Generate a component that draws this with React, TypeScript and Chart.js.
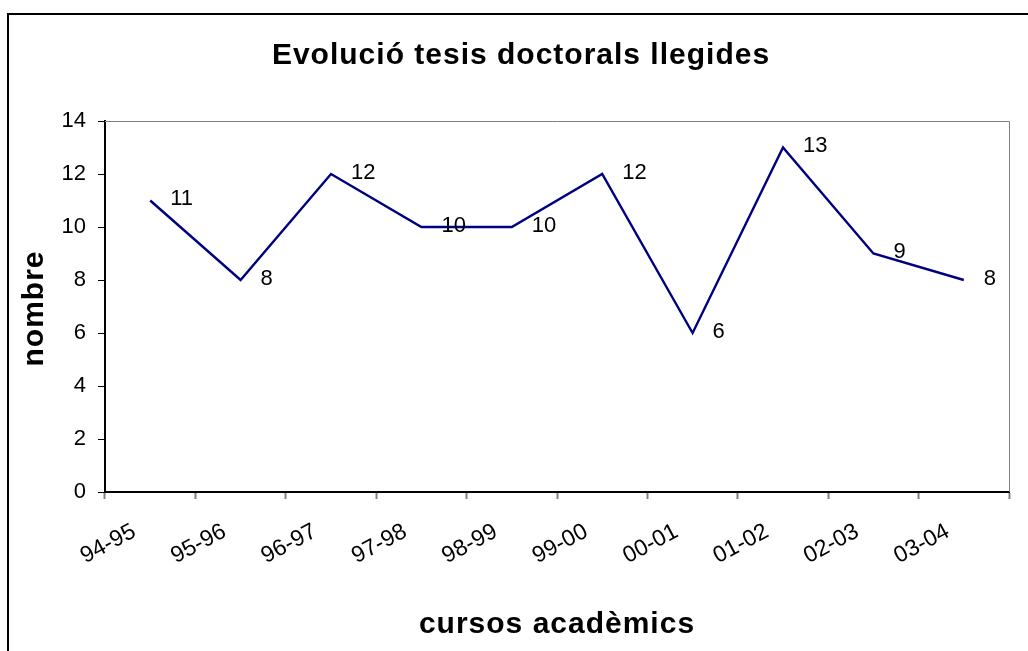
import React, { useEffect, useRef } from "react";
import { Chart, registerables } from "chart.js";

Chart.register(...registerables);

// ---- data ----
const TITLE = "Evolució tesis doctorals llegides";
const Y_TITLE = "nombre";
const X_TITLE = "cursos acadèmics";
const courses = ["94-95", "95-96", "96-97", "97-98", "98-99", "99-00", "00-01", "01-02", "02-03", "03-04"];
const theses = [11, 8, 12, 10, 10, 12, 6, 13, 9, 8];
const yMin = 0;
const yMax = 14;
const yStep = 2;

const FONT = "'Liberation Sans', Arial, sans-serif";

const decor = {
  id: "decor",
  afterDraw(chart: any) {
    const ctx: CanvasRenderingContext2D = chart.ctx;
    const a = chart.chartArea;
    ctx.save();

    // outer frame (left + top visible)
    ctx.strokeStyle = "#000";
    ctx.lineWidth = 2;
    ctx.beginPath();
    ctx.moveTo(8, 660);
    ctx.lineTo(8, 14);
    ctx.lineTo(1040, 14);
    ctx.stroke();

    // plot area border (top + right)
    ctx.strokeStyle = "#808080";
    ctx.lineWidth = 1;
    ctx.beginPath();
    ctx.moveTo(a.left, a.top + 0.5);
    ctx.lineTo(a.right + 0.5, a.top + 0.5);
    ctx.lineTo(a.right + 0.5, a.bottom);
    ctx.stroke();

    // titles
    ctx.fillStyle = "#000";
    (ctx as any).letterSpacing = "1px";
    ctx.font = `bold 30px ${FONT}`;
    ctx.textAlign = "center";
    ctx.textBaseline = "alphabetic";
    ctx.fillText(TITLE, 521, 64);
    ctx.fillText(X_TITLE, (a.left + a.right) / 2, 633);
    ctx.save();
    ctx.translate(43, (a.top + a.bottom) / 2 + 2);
    ctx.rotate(-Math.PI / 2);
    ctx.fillText(Y_TITLE, 0, 0);
    ctx.restore();
    (ctx as any).letterSpacing = "0px";

    // data labels
    const meta = chart.getDatasetMeta(0);
    const vals = chart.data.datasets[0].data;
    ctx.font = `22px ${FONT}`;
    ctx.textAlign = "left";
    ctx.textBaseline = "middle";
    meta.data.forEach((pt: any, i: number) => {
      ctx.fillText(String(vals[i]), pt.x + 20, pt.y - 1.5);
    });

    ctx.restore();
  },
};

export default function App() {
  const ref = useRef<HTMLCanvasElement>(null);

  useEffect(() => {
    const chart = new Chart(ref.current as HTMLCanvasElement, {
      type: "line",
      data: {
        labels: courses,
        datasets: [
          {
            data: theses,
            borderColor: "#000080",
            borderWidth: 2.4,
            pointRadius: 0,
            tension: 0,
            fill: false,
          },
        ],
      },
      options: {
        animation: false,
        responsive: false,
        layout: { padding: { top: 121, right: 19, left: 0, bottom: 0 } },
        plugins: {
          legend: { display: false },
          title: { display: false },
          tooltip: { enabled: false },
        },
        scales: {
          x: {
            type: "category",
            offset: true,
            grid: {
              offset: true,
              drawOnChartArea: false,
              drawTicks: true,
              tickLength: 7,
              tickColor: "#808080",
              tickWidth: 2,
            },
            border: { display: true, color: "#000", width: 2 },
            ticks: {
              autoSkip: false,
              minRotation: 28,
              maxRotation: 28,
              padding: 19,
              labelOffset: -16,
              color: "#000",
              font: { family: FONT, size: 23 },
            },
            afterFit: (s: any) => {
              s.height = 159;
            },
          },
          y: {
            min: yMin,
            max: yMax,
            grid: {
              drawOnChartArea: false,
              drawTicks: true,
              tickLength: 7,
              tickColor: "#000",
              tickWidth: 1,
            },
            border: { display: true, color: "#000", width: 2 },
            ticks: {
              stepSize: yStep,
              padding: 12,
              color: "#000",
              font: { family: FONT, size: 22 },
            },
            afterFit: (s: any) => {
              s.width = 105;
            },
          },
        },
      },
      plugins: [decor],
    });
    return () => chart.destroy();
  }, []);

  return (
    <div style={{ position: "absolute", left: 0, top: 0, width: 1028, height: 651, background: "#fff" }}>
      <canvas ref={ref} width={1028} height={651} style={{ display: "block" }} />
    </div>
  );
}
